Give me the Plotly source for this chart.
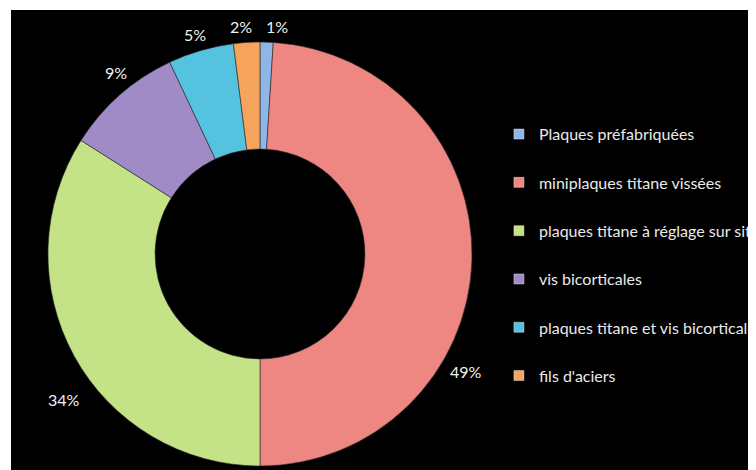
import plotly.graph_objects as go

categories = [
    "Plaques préfabriquées",
    "miniplaques titane vissées",
    "plaques titane à réglage sur sites",
    "vis bicorticales",
    "plaques titane et vis bicorticales",
    "fils d'aciers",
]
values = [1, 49, 34, 9, 5, 2]
colors = ["#8FB6E6", "#EE8781", "#C4E386", "#A08BC6", "#55C3E0", "#F7A45C"]

# label positions (paper coordinates) for the percentage labels, same order as categories
label_x = [0.3526, 0.6042, 0.0710, 0.1388, 0.2444, 0.3061]
label_y = [0.9658, 0.2265, 0.1667, 0.8664, 0.9487, 0.9658]

FONT = "Lato"

fig = go.Figure()

fig.add_trace(go.Pie(
    labels=categories,
    values=values,
    hole=0.495,
    sort=False,
    direction="clockwise",
    rotation=0,
    marker=dict(colors=colors, line=dict(color="#2a2a2a", width=0.6)),
    textinfo="none",
    showlegend=False,
    domain=dict(x=[0.0491, 0.6122], y=[0.0256, 0.9316]),
))

total = sum(values)
for v, lx, ly in zip(values, label_x, label_y):
    fig.add_annotation(
        x=lx, y=ly, xref="paper", yref="paper",
        text=f"{round(100 * v / total)}%",
        showarrow=False, xanchor="center", yanchor="middle",
        font=dict(family=FONT, size=16, color="#F2F2F2"),
    )

# legend entries (one group each so their spacing can be set)
for cat, col in zip(categories, colors):
    fig.add_trace(go.Scatter(
        x=[None], y=[None], mode="markers", name=cat,
        legendgroup=cat,
        marker=dict(symbol="square", size=10, color=col,
                    line=dict(color="#dddddd", width=0.5)),
    ))

fig.update_layout(
    width=756, height=470,
    margin=dict(l=3, r=0, t=2, b=0, autoexpand=False),
    paper_bgcolor="white",
    plot_bgcolor="black",
    xaxis=dict(visible=False),
    yaxis=dict(visible=False),
    legend=dict(
        x=0.648, y=0.771, xanchor="left", yanchor="top",
        font=dict(family=FONT, size=16, color="#EAEAEA"),
        bgcolor="rgba(0,0,0,0)",
        tracegroupgap=24.5,
    ),
    font=dict(family=FONT),
)

fig.write_html("out.html")
